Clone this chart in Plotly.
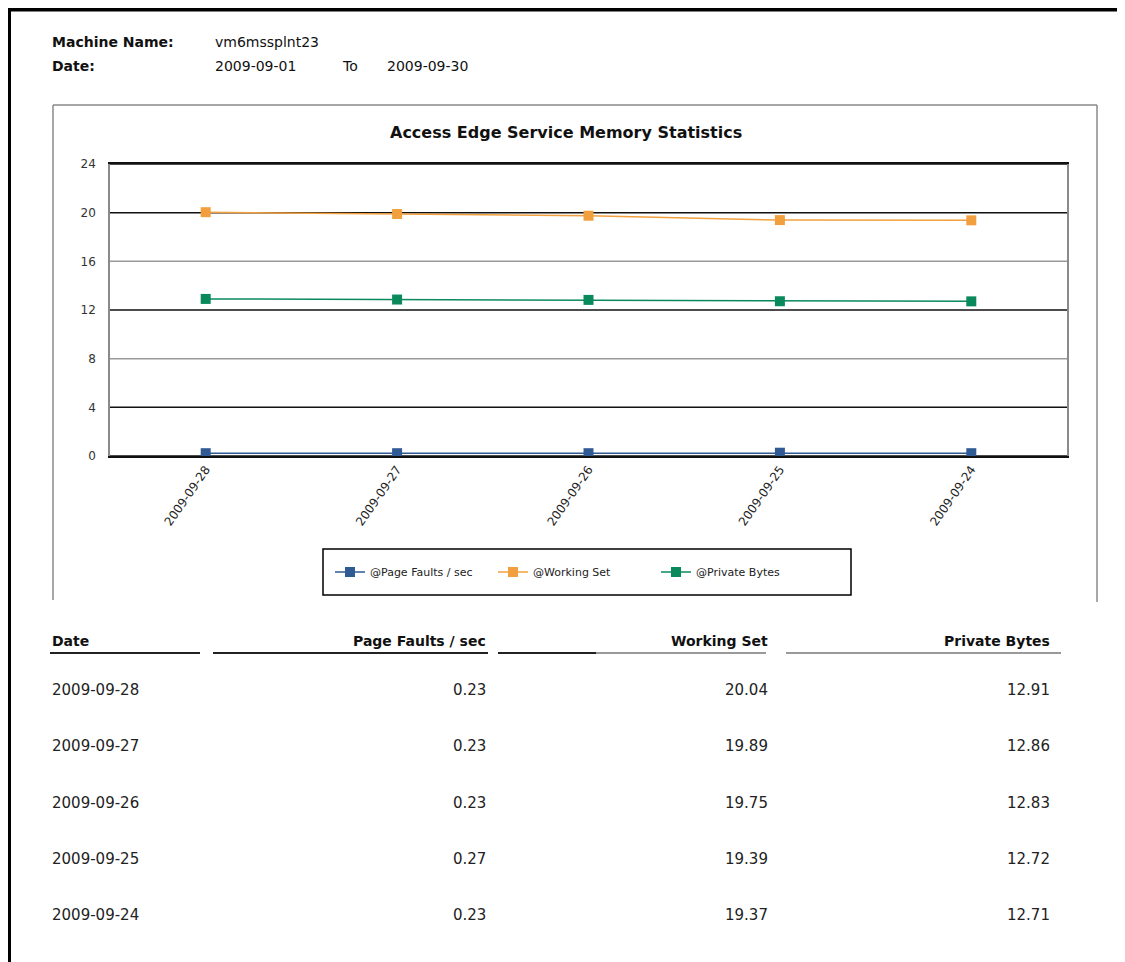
import plotly.graph_objects as go

# ---------------- data ----------------
machine_name = "vm6mssplnt23"
date_from = "2009-09-01"
date_to = "2009-09-30"
chart_title = "Access Edge Service Memory Statistics"
dates = ["2009-09-28", "2009-09-27", "2009-09-26", "2009-09-25", "2009-09-24"]
page_faults = [0.23, 0.23, 0.23, 0.27, 0.23]
working_set = [20.04, 19.89, 19.75, 19.39, 19.37]
private_bytes = [12.91, 12.86, 12.83, 12.72, 12.71]
series_names = ["@Page Faults / sec", "@Working Set", "@Private Bytes"]
table_headers = ["Date", "Page Faults / sec", "Working Set", "Private Bytes"]
y_ticks = [0, 4, 8, 12, 16, 20, 24]

# ---------------- style ----------------
W, H = 1125, 962
OFF = 8  # page body offset compensation
FONT = "DejaVu Sans"
colors = ["#2F5A94", "#F2A03F", "#0A8A5C"]
grid_colors = ["#111111", "#111111", "#999999", "#111111", "#999999", "#111111", "#111111"]


def px(x):
    return (x - OFF) / W


def py(y):
    return 1 - (y - OFF) / H


fig = go.Figure()
for name, vals, col in zip(series_names, [page_faults, working_set, private_bytes], colors):
    fig.add_trace(go.Scatter(
        x=dates, y=vals, name=name, mode="lines+markers",
        line=dict(color=col, width=1.5),
        marker=dict(symbol="square", size=10, color=col),
    ))

shapes = []
# page border (thick black top/left)
shapes.append(dict(type="line", xref="paper", yref="paper", x0=px(7), x1=px(1135), y0=py(9), y1=py(9),
                   line=dict(color="black", width=5)))
shapes.append(dict(type="line", xref="paper", yref="paper", x0=px(9), x1=px(9), y0=py(7), y1=py(975),
                   line=dict(color="black", width=4)))
# chart outer frame (open at bottom)
for (x0, y0, x1, y1) in [(53, 105, 1097, 105), (53, 105, 53, 600), (1097, 105, 1097, 602)]:
    shapes.append(dict(type="line", xref="paper", yref="paper", x0=px(x0), x1=px(x1), y0=py(y0), y1=py(y1),
                       line=dict(color="#8a8a8a", width=1.5)))
# gridlines
for t, gc in zip(y_ticks, grid_colors):
    shapes.append(dict(type="line", xref="x domain", yref="y", x0=0, x1=1, y0=t, y1=t,
                       line=dict(color=gc, width=1.5), layer="below"))
# legend box
shapes.append(dict(type="rect", xref="paper", yref="paper", x0=px(323), x1=px(851), y0=py(549), y1=py(595),
                   line=dict(color="black", width=1.5), fillcolor="rgba(0,0,0,0)"))
# table header underlines
for (x0, x1, c) in [(50, 200, "#222222"), (213, 488, "#222222"), (498, 596, "#222222"),
                    (596, 766, "#999999"), (786, 1061, "#999999")]:
    shapes.append(dict(type="line", xref="paper", yref="paper", x0=px(x0), x1=px(x1), y0=py(653), y1=py(653),
                       line=dict(color=c, width=2)))

ann = []


def text(x, y, s, size=14, bold=False, anchor="left", color="#111111"):
    ann.append(dict(x=px(x), y=py(y), xref="paper", yref="paper", text=f"<b>{s}</b>" if bold else s,
                    showarrow=False, xanchor=anchor, yanchor="middle",
                    font=dict(family=FONT, size=size, color=color)))


text(50, 42, "Machine Name:", 14, True)
text(213, 42, machine_name, 14)
text(50, 66, "Date:", 14, True)
text(213, 66, date_from, 14)
text(340, 66, "To", 14)
text(385, 66, date_to, 14)
text(566, 133, chart_title, 16, True, "center")

# table
col_x = [50, 488, 770, 1052]
col_anchor = ["left", "right", "right", "right"]
for hx, ha, h in zip(col_x, col_anchor, table_headers):
    text(hx, 641, h, 14, True, ha)
row_y = [690, 746, 803, 859, 915]
for ry, d, a, b, c in zip(row_y, dates, page_faults, working_set, private_bytes):
    text(col_x[0], ry, d, 15, False, "left", "#222222")
    text(col_x[1], ry, f"{a:.2f}", 15, False, "right", "#222222")
    text(col_x[2], ry, f"{b:.2f}", 15, False, "right", "#222222")
    text(col_x[3], ry, f"{c:.2f}", 15, False, "right", "#222222")

fig.update_layout(
    width=W, height=H, margin=dict(l=0, r=0, t=0, b=0, autoexpand=False),
    paper_bgcolor="white", plot_bgcolor="white",
    font=dict(family=FONT, color="#222222"),
    shapes=shapes, annotations=ann,
    showlegend=True,
    legend=dict(orientation="h", x=px(330), y=py(572), xanchor="left", yanchor="middle",
                entrywidth=118, entrywidthmode="pixels", bgcolor="rgba(0,0,0,0)",
                font=dict(family=FONT, size=11, color="#222222")),
    xaxis=dict(domain=[px(110), px(1067)], type="category", range=[-0.5, len(dates) - 0.5],
               tickangle=-55,
               tickfont=dict(size=12, color="#222222"), showgrid=False, zeroline=False,
               showline=True, linecolor="#111111", linewidth=1.5, mirror=True, ticks=""),
    yaxis=dict(domain=[py(456), py(164)], range=[0, 24], tickvals=y_ticks,
               tickfont=dict(size=12, color="#333333"), showgrid=False, zeroline=False,
               showline=True, linecolor="#8a8a8a", linewidth=1.5, mirror=True, ticks="",
               ticklabelstandoff=10),
)

fig.write_html("out.html")
